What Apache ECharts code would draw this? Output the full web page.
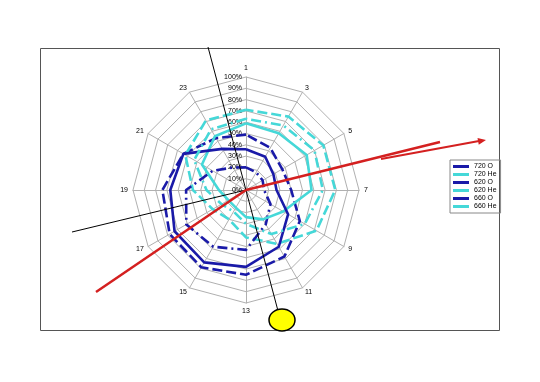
<!DOCTYPE html>
<html><head><meta charset="utf-8">
<script src="https://cdn.jsdelivr.net/npm/echarts@6/dist/echarts.min.js"></script>
<style>html,body{margin:0;padding:0;background:#fff}#c{width:540px;height:382px}</style>
</head><body><div id="c"></div>
<script>
// axes in clockwise order starting at the top
var axes = ['1','3','5','7','9','11','13','15','17','19','21','23'];
var pctTicks = [0,10,20,30,40,50,60,70,80,90,100];
var seriesNames = ['720 O','720 He','620 O','620 He','660 O','660 He'];
var o720  = [49,43,37,40,55,68,75,79,78,74,64,53];
var he720 = [71,75,79,79,72,55,42,30,34,47,62,71];
var o620  = [20,18,17,16,25,35,53,58,61,53,34,23];
var he620 = [59,58,62,58,38,30,24,18,18,24,45,55];
var o660  = [36,34,28,27,43,58,68,74,73,67,64,42];
var he660 = [63,66,70,68,60,45,30,22,25,35,53,62];

var CX = 246, CY = 190, R = 113;
var DARK = '#1a1aa8', CYAN = '#45d8d8';

// ECharts radar runs counter-clockwise; reorder so labels run clockwise
function ccw(arr){ return [arr[0]].concat(arr.slice(1).reverse()); }
var indAxes = ccw(axes);
var indicator = indAxes.map(function(n,i){
  var o = {name:n, max:100, min:0};
  if(i===0) o.axisLabel = {show:true};
  return o;
});

var styles = [
  {c:DARK, t:[10,4]},
  {c:CYAN, t:[10,4]},
  {c:DARK, t:[10,4,2,4]},
  {c:CYAN, t:'solid'},
  {c:DARK, t:'solid'},
  {c:CYAN, t:[10,4,2,4]}
];
var vals = [o720, he720, o620, he620, o660, he660];
var series = [{
  type:'radar',
  symbol:'none',
  silent:true,
  data: vals.map(function(v,i){
    return {name:seriesNames[i], value:ccw(v),
      lineStyle:{color:styles[i].c, width:2.6, type:styles[i].t},
      itemStyle:{color:styles[i].c}, areaStyle:null};
  })
}];

// annotation geometry, relative to radar centre
function redArrow(x1,y1,x2,y2){
  var a = Math.atan2(y2-y1,x2-x1), L=8, W=3.5;
  return {type:'polygon', z:100, shape:{points:[[x2,y2],
    [x2-L*Math.cos(a)+W*Math.sin(a), y2-L*Math.sin(a)-W*Math.cos(a)],
    [x2-L*Math.cos(a)-W*Math.sin(a), y2-L*Math.sin(a)+W*Math.cos(a)]]},
    style:{fill:'#d42020'}};
}
var graphic = [
  {type:'rect', z:-1, shape:{x:40.5,y:48.5,width:459,height:282}, style:{fill:'none', stroke:'#555', lineWidth:1}},
  {type:'line', z:90, shape:{x1:CX-38,y1:CY-143,x2:CX+31.5,y2:CY+119}, style:{stroke:'#000',lineWidth:1}},
  {type:'line', z:90, shape:{x1:CX-174,y1:CY+42,x2:CX,y2:CY}, style:{stroke:'#000',lineWidth:1}},
  {type:'line', z:95, shape:{x1:CX-150,y1:CY+102,x2:CX,y2:CY}, style:{stroke:'#d42020',lineWidth:2.5}},
  {type:'line', z:95, shape:{x1:CX,y1:CY,x2:CX+194,y2:CY-48}, style:{stroke:'#d42020',lineWidth:2.5}},
  {type:'line', z:95, shape:{x1:CX+135,y1:CY-31,x2:CX+233,y2:CY-49}, style:{stroke:'#d42020',lineWidth:2}},
  redArrow(CX+135,CY-31,CX+240,CY-50),
  {type:'ellipse', z:100, shape:{cx:CX+36,cy:CY+130,rx:13,ry:11}, style:{fill:'#ffff00', stroke:'#000', lineWidth:1.5}}
];

var chart = echarts.init(document.getElementById('c'), null, {renderer:'canvas'});
chart.setOption({
  animation:false,
  backgroundColor:'#fff',
  textStyle:{fontFamily:'Liberation Sans, Arial, sans-serif'},
  legend:{
    data:seriesNames, orient:'vertical', left:450, top:160,
    itemWidth:16, itemHeight:3, itemGap:1, icon:'rect',
    padding:[3,4,3,3], borderColor:'#888', borderWidth:1,
    textStyle:{fontSize:7, color:'#000', fontFamily:'Liberation Sans, Arial, sans-serif'}
  },
  radar:{
    center:[CX,CY], radius:R, startAngle:90, shape:'polygon',
    splitNumber:10, indicator:indicator,
    axisName:{color:'#000', fontSize:7, fontFamily:'Liberation Sans, Arial, sans-serif'},
    nameGap:5,
    axisLine:{lineStyle:{color:'#b0b0b0', width:1}},
    splitLine:{lineStyle:{color:'#b0b0b0', width:1}},
    splitArea:{show:false},
    axisTick:{show:false},
    axisLabel:{show:false, fontSize:7, color:'#000', margin:4,
      formatter:function(v){ return pctTicks.indexOf(v)>=0 ? v+'%' : ''; }}
  },
  graphic:graphic,
  series:series
});
</script></body></html>
